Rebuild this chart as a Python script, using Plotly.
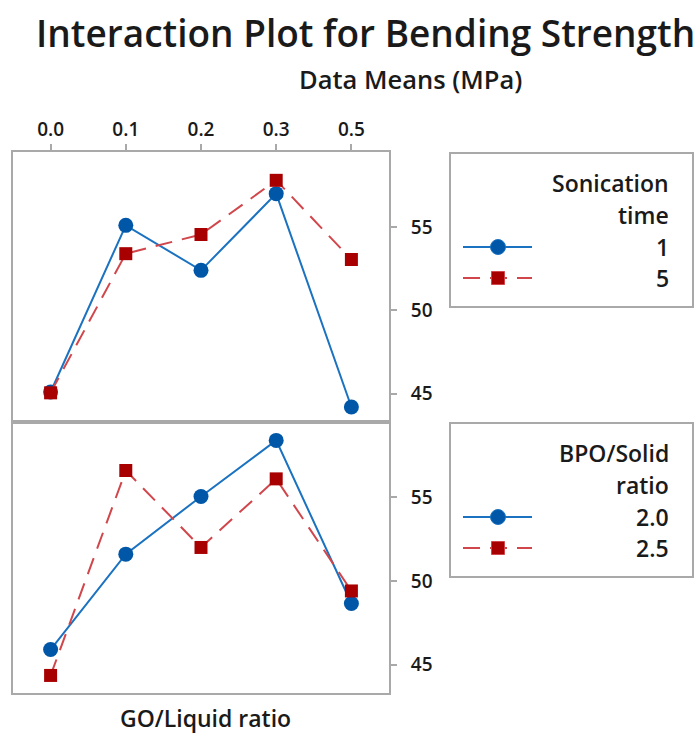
import plotly.graph_objects as go

# GO/Liquid ratio levels (categorical x axis)
go_ratio = ["0.0", "0.1", "0.2", "0.3", "0.5"]

# Bending strength means (MPa) by sonication time
sonication_levels = ["1", "5"]
sonication_1 = [45.1, 55.1, 52.4, 57.0, 44.2]
sonication_5 = [45.05, 53.4, 54.55, 57.8, 53.05]

# Bending strength means (MPa) by BPO/Solid ratio
bpo_levels = ["2.0", "2.5"]
bpo_20 = [45.9, 51.6, 55.05, 58.4, 48.65]
bpo_25 = [44.35, 56.6, 52.0, 56.1, 49.4]

y_ticks = [45, 50, 55]

W, H = 697, 735
BLUE_LINE = "#1a72c0"
BLUE_MARK = "#0057a8"
RED_LINE = "#d0464b"
RED_MARK = "#a80000"
FRAME = "#a9a9a9"
TXT = "#1a1a1a"
FONT = "Open Sans"
WEIGHT = 600
RED_DASH = "17px,10px"


def px_x(p):
    return p / W


def px_y(p):
    return 1 - p / H


fig = go.Figure()

# main interaction panels
panels = [
    ("x", "y", sonication_1, sonication_5),
    ("x2", "y2", bpo_20, bpo_25),
]
for xa, ya, s_blue, s_red in panels:
    fig.add_trace(go.Scatter(
        x=go_ratio, y=s_blue, xaxis=xa, yaxis=ya, mode="lines+markers",
        line=dict(color=BLUE_LINE, width=2),
        marker=dict(symbol="circle", size=15, color=BLUE_MARK, opacity=1),
        showlegend=False, hoverinfo="x+y"))
    fig.add_trace(go.Scatter(
        x=go_ratio, y=s_red, xaxis=xa, yaxis=ya, mode="lines+markers",
        line=dict(color=RED_LINE, width=2, dash=RED_DASH),
        marker=dict(symbol="square", size=13, color=RED_MARK, opacity=1),
        showlegend=False, hoverinfo="x+y"))

# legend keys drawn on small boxed axes
key_x = [12, 47, 81]
for xa, ya in (("x3", "y3"), ("x4", "y4")):
    fig.add_trace(go.Scatter(
        x=key_x, y=[93] * 3, xaxis=xa, yaxis=ya, mode="lines+markers",
        line=dict(color=BLUE_LINE, width=2),
        marker=dict(symbol="circle", size=[0, 15, 0], color=BLUE_MARK, opacity=1),
        showlegend=False, hoverinfo="skip"))
    fig.add_trace(go.Scatter(
        x=key_x, y=[124] * 3, xaxis=xa, yaxis=ya, mode="lines+markers",
        line=dict(color=RED_LINE, width=2, dash=RED_DASH),
        marker=dict(symbol="square", size=[0, 13, 0], color=RED_MARK, opacity=1),
        showlegend=False, hoverinfo="skip"))

x_dom = [px_x(13), px_x(389)]
y_range = [43.3, 59.5]

common_y = dict(
    range=y_range, side="right", tickvals=y_ticks, ticks="outside", ticklen=6,
    tickcolor=FRAME, tickwidth=1.5, showgrid=False, zeroline=False,
    showline=True, mirror=True, linecolor=FRAME, linewidth=2,
    tickfont=dict(family=FONT, size=19, color=TXT, weight=WEIGHT),
    ticklabelstandoff=10,
)
common_x = dict(
    type="category", range=[-0.5, 4.5], domain=x_dom, showgrid=False,
    zeroline=False, showline=True, mirror=True, linecolor=FRAME, linewidth=2,
)
legend_axis_x = dict(range=[0, 241], showgrid=False, zeroline=False,
                     showticklabels=False, ticks="", showline=True, mirror=True,
                     linecolor=FRAME, linewidth=1.5, fixedrange=True)
legend_axis_y = dict(range=[152, 0], showgrid=False, zeroline=False,
                     showticklabels=False, ticks="", showline=True, mirror=True,
                     linecolor=FRAME, linewidth=1.5, fixedrange=True)

fig.update_layout(
    width=W, height=H, margin=dict(l=0, r=0, t=0, b=0),
    paper_bgcolor="white", plot_bgcolor="white",
    xaxis=dict(common_x, anchor="y", side="top", ticks="outside", ticklen=6,
               tickcolor=FRAME, tickwidth=1.5,
               tickfont=dict(family=FONT, size=19, color=TXT, weight=WEIGHT)),
    yaxis=dict(common_y, domain=[px_y(422), px_y(152)], anchor="x"),
    xaxis2=dict(common_x, anchor="y2", matches="x", showticklabels=False, ticks=""),
    yaxis2=dict(common_y, domain=[px_y(693), px_y(422)], anchor="x2"),
    xaxis3=dict(legend_axis_x, domain=[px_x(451), px_x(692)], anchor="y3"),
    yaxis3=dict(legend_axis_y, domain=[px_y(306), px_y(154)], anchor="x3"),
    xaxis4=dict(legend_axis_x, domain=[px_x(451), px_x(692)], anchor="y4"),
    yaxis4=dict(legend_axis_y, domain=[px_y(576), px_y(424)], anchor="x4"),
    showlegend=False,
)


def note(text, x, y, size, anchor="center"):
    fig.add_annotation(text=text, x=px_x(x), y=px_y(y), xref="paper", yref="paper",
                       xanchor=anchor, yanchor="middle", showarrow=False,
                       font=dict(family=FONT, size=size, color=TXT, weight=WEIGHT))


note("Interaction Plot for Bending Strength", 365, 32, 37)
note("Data Means (MPa)", 410, 79, 25.5)
note("GO/Liquid ratio", 205, 718, 23)

# legend labels, right aligned
for txt, yy in (("Sonication", 183), ("time", 215),
                (sonication_levels[0], 247), (sonication_levels[1], 278)):
    note(txt, 671, yy, 23, anchor="right")
for txt, yy in (("BPO/Solid", 453), ("ratio", 485),
                (bpo_levels[0], 517), (bpo_levels[1], 548)):
    note(txt, 671, yy, 23, anchor="right")

fig.write_html("out.html")
